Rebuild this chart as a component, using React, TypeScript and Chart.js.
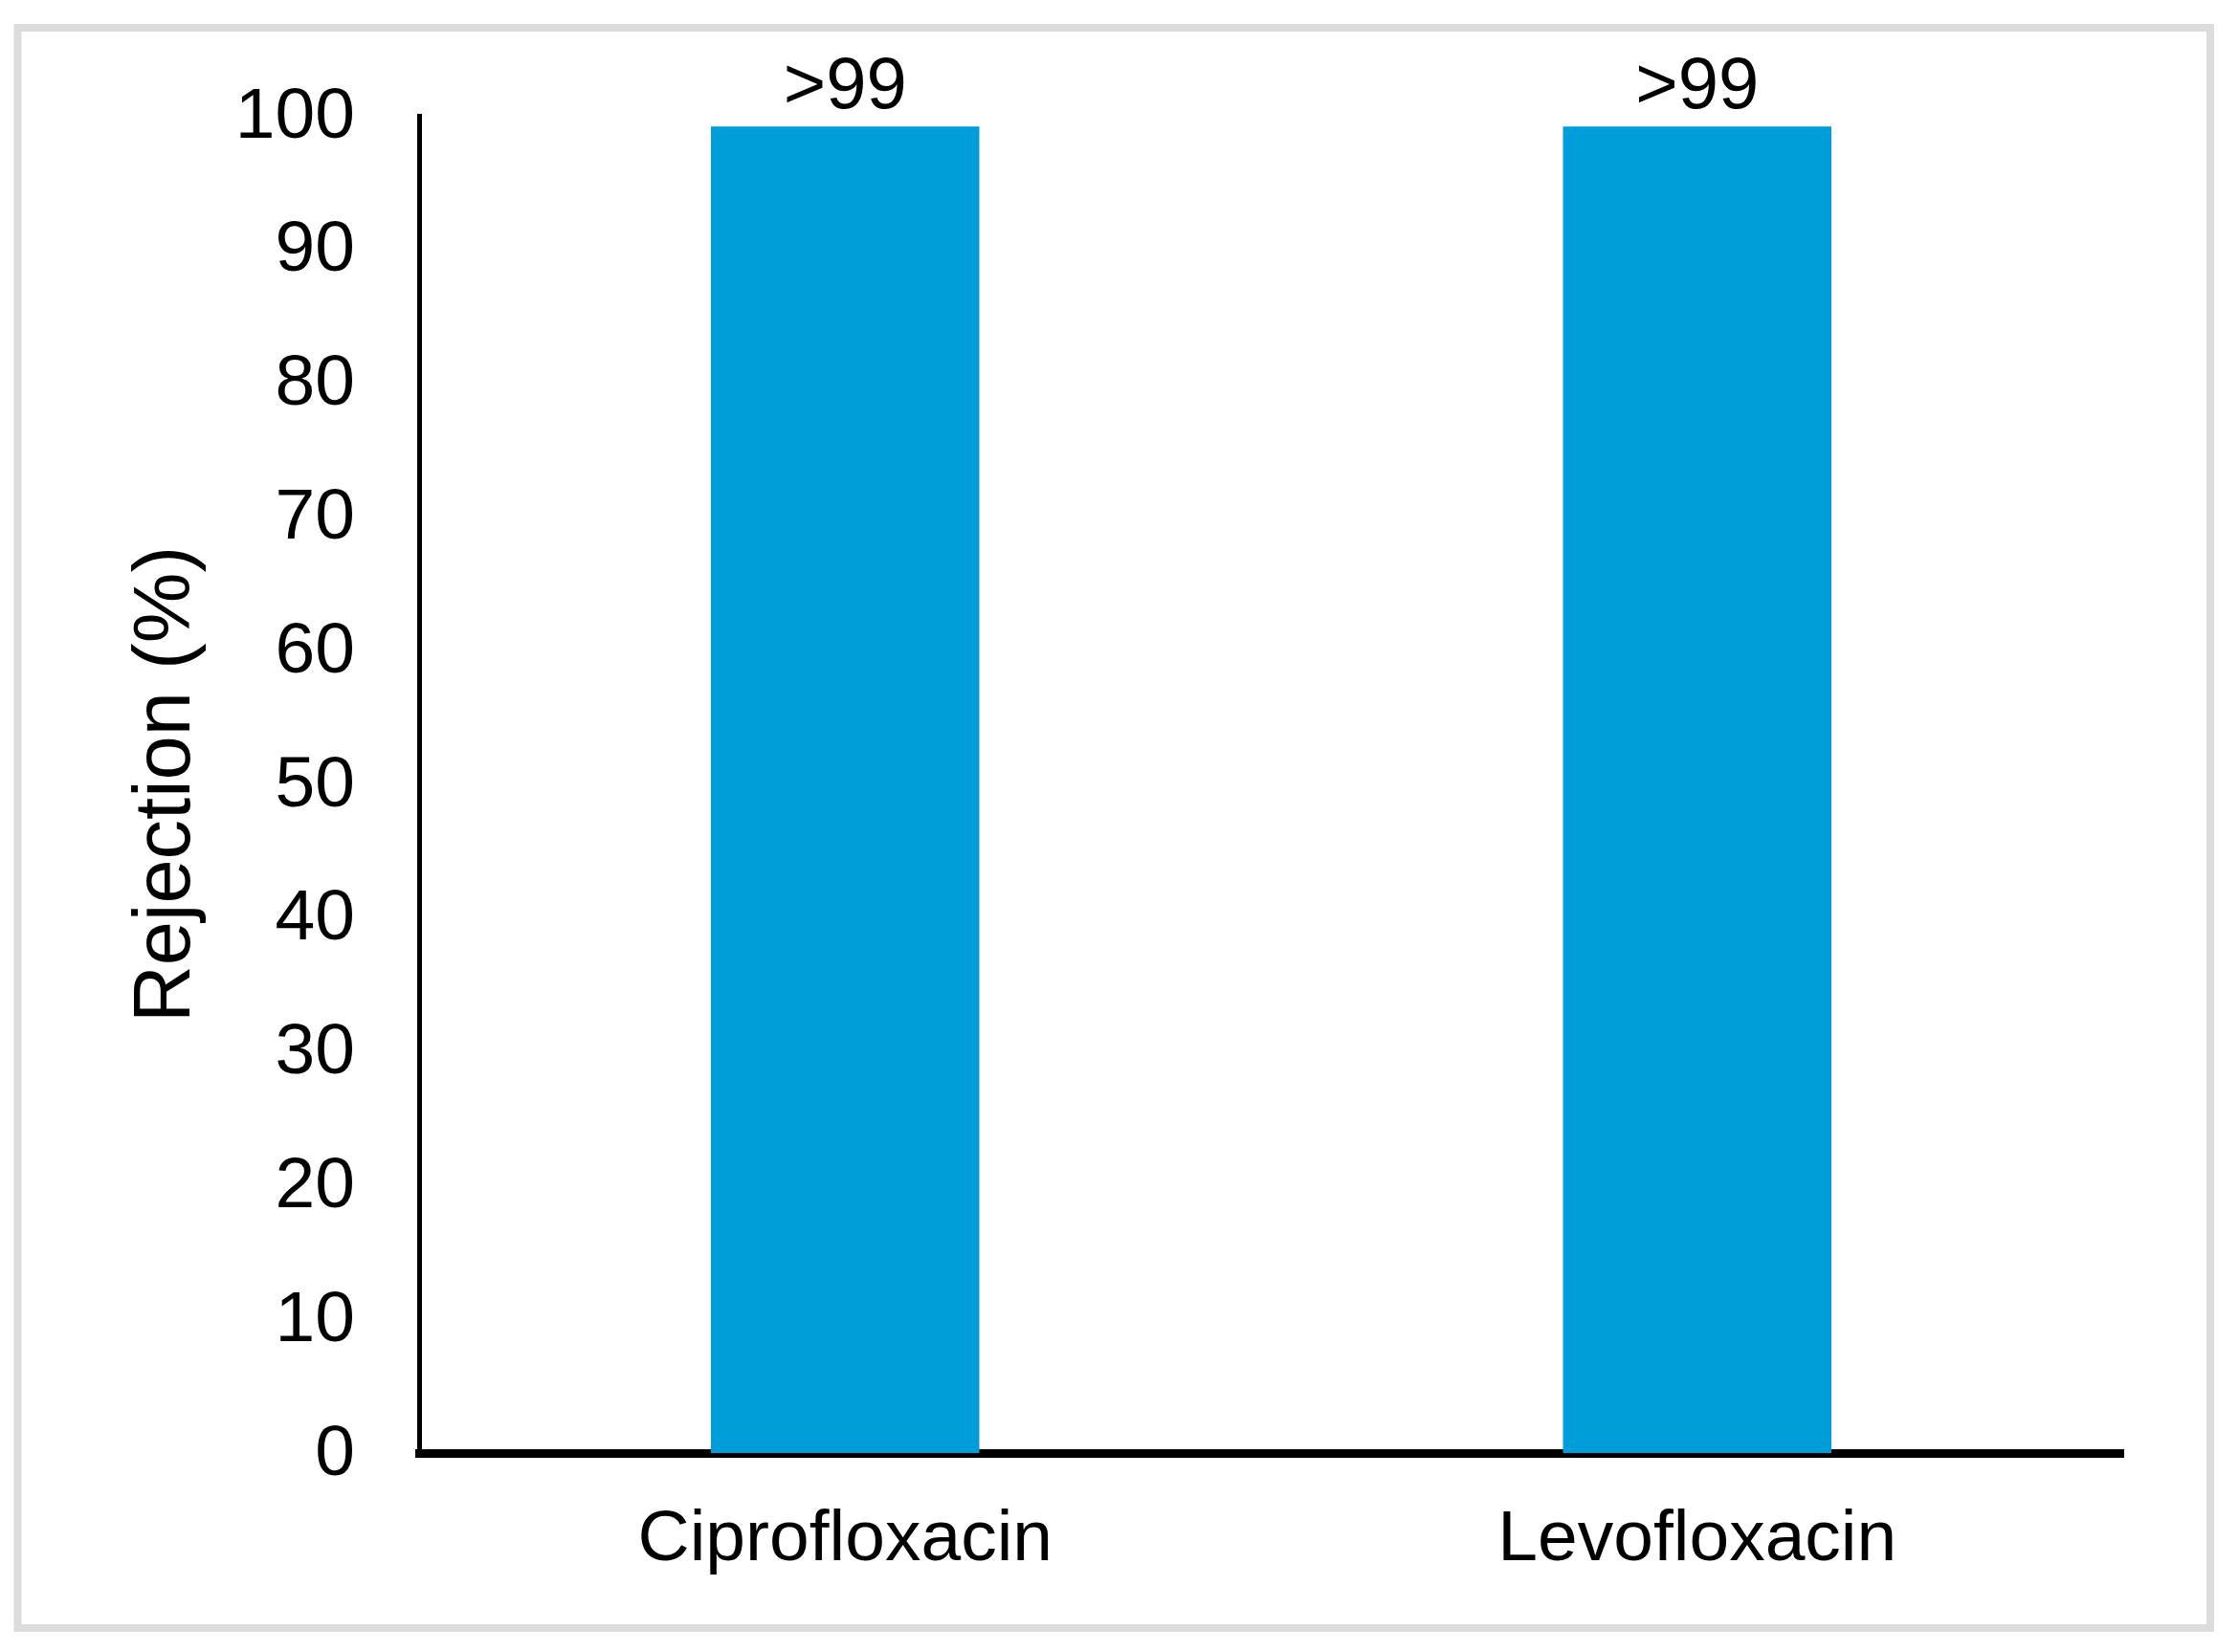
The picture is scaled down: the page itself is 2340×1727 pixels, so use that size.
import React, { useEffect, useRef } from "react";
import { Chart, registerables } from "chart.js";

Chart.register(...registerables);

const categories = ["Ciprofloxacin", "Levofloxacin"];
const rejectionValues = [99.2, 99.2];
const valueLabels = [">99", ">99"];
const yTicks = [0, 10, 20, 30, 40, 50, 60, 70, 80, 90, 100];
const yTitle = "Rejection (%)";

const FONT = "'Liberation Sans', Arial, sans-serif";

const framePlugin = {
  id: "frame",
  beforeDraw(chart: any) {
    const { ctx, width, height } = chart;
    ctx.save();
    ctx.fillStyle = "#ffffff";
    ctx.fillRect(0, 0, width, height);
    ctx.restore();
  },
  afterDraw(chart: any) {
    const { ctx } = chart;
    ctx.save();
    ctx.strokeStyle = "#dcdcdc";
    ctx.lineWidth = 8;
    ctx.strokeRect(18.5, 29, 2310 - 18.5, 1702 - 29);
    ctx.restore();
  },
};

const valueLabelPlugin = {
  id: "valueLabels",
  afterDatasetsDraw(chart: any) {
    const { ctx } = chart;
    const meta = chart.getDatasetMeta(0);
    ctx.save();
    ctx.fillStyle = "#000000";
    ctx.font = `76px ${FONT}`;
    ctx.textAlign = "center";
    ctx.textBaseline = "alphabetic";
    meta.data.forEach((bar: any, i: number) => {
      ctx.fillText(valueLabels[i], bar.x, bar.y - 19);
    });
    ctx.restore();
  },
};

export default function App() {
  const canvasRef = useRef<HTMLCanvasElement | null>(null);

  useEffect(() => {
    const canvas = canvasRef.current;
    if (!canvas) return;
    const chart = new Chart(canvas, {
      type: "bar",
      data: {
        labels: categories,
        datasets: [
          {
            data: rejectionValues,
            backgroundColor: "#009DDB",
            borderWidth: 0,
            barPercentage: 0.315,
            categoryPercentage: 1,
          },
        ],
      },
      options: {
        responsive: false,
        animation: false,
        devicePixelRatio: 1,
        layout: { padding: { left: 0, top: 121, right: 121, bottom: 0 } },
        plugins: {
          legend: { display: false },
          tooltip: { enabled: false },
          title: { display: false },
        },
        scales: {
          x: {
            z: 1,
            grid: { display: false, drawTicks: false },
            border: { display: true, color: "#000000", width: 9 },
            ticks: {
              color: "#000000",
              font: { family: FONT, size: 75 },
              padding: 46,
              maxRotation: 0,
            },
            afterFit(scale: any) {
              scale.height = 208;
            },
          },
          y: {
            z: 1,
            min: 0,
            max: 100,
            afterBuildTicks(scale: any) {
              scale.ticks = yTicks.map((v) => ({ value: v }));
            },
            grid: { display: false, drawTicks: false },
            border: { display: true, color: "#000000", width: 5 },
            ticks: {
              color: "#000000",
              font: { family: FONT, size: 75 },
              padding: 67,
              labelOffset: 2,
            },
            title: {
              display: true,
              text: yTitle,
              color: "#000000",
              font: { family: FONT, size: 83 },
              padding: { top: 125, bottom: 0 },
            },
            afterFit(scale: any) {
              scale.width = 438;
            },
          },
        },
      },
      plugins: [framePlugin, valueLabelPlugin],
    });
    return () => chart.destroy();
  }, []);

  return (
    <div style={{ position: "absolute", left: 0, top: 0, width: 2340, height: 1727 }}>
      <canvas ref={canvasRef} width={2340} height={1727} style={{ display: "block" }} />
    </div>
  );
}
